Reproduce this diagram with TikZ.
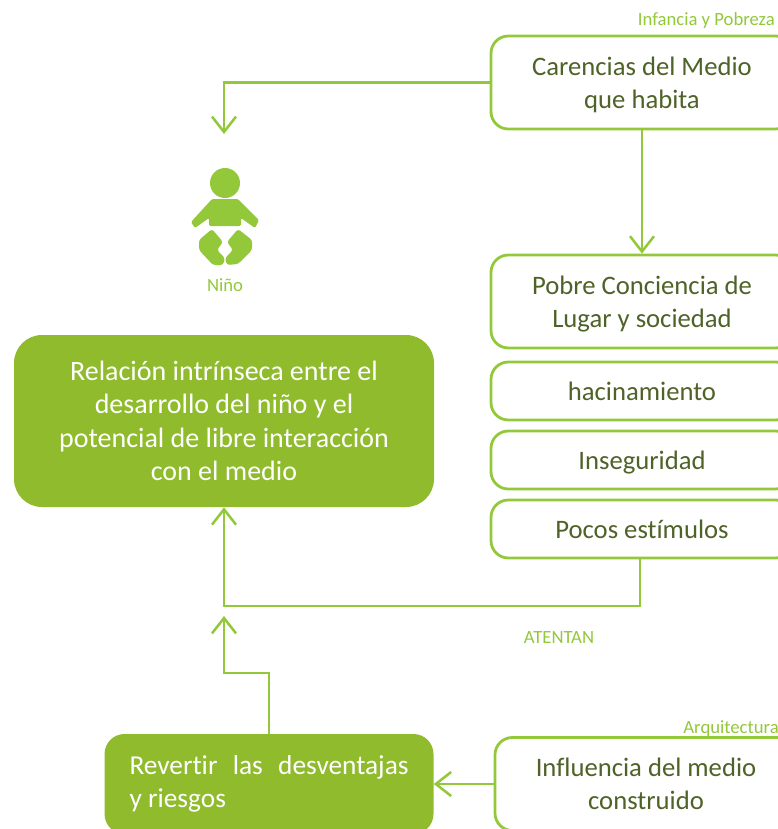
\documentclass[tikz,border=0pt]{standalone}
\usepackage{fontspec}
\setmainfont[Ligatures=NoCommon]{Carlito}
\usetikzlibrary{arrows.meta,positioning}
\definecolor{linegreen}{HTML}{92C83A}
\definecolor{fillgreen}{HTML}{8FBB2D}
\definecolor{textgreen}{HTML}{4F6228}
\tikzset{font=\fontsize{20}{24.5}\selectfont}
\tikzset{conn/.style={draw=linegreen,line width=2.1pt,-{Straight Barb[length=11.5pt,width=18pt,line width=1.9pt]}}}
\tikzset{whitebox/.style={draw=linegreen,line width=2.1pt,rounded corners=13pt,fill=white,text=textgreen,align=center,minimum width=226.5pt,inner sep=0pt,text depth=0pt}}
\tikzset{greenbox/.style={fill=fillgreen,text=white,inner sep=0pt}}
\tikzset{caption/.style={text=linegreen,font=\fontsize{14}{16}\selectfont,inner sep=0pt}}

\begin{document}
\begin{tikzpicture}[x=.75pt,y=-.75pt]
\useasboundingbox (0,0) rectangle (778,829);
\clip (0,0) rectangle (778,829);
% right column
\node[whitebox,minimum height=69.75pt] (carencias) at (642,82.5) {Carencias del Medio\\que habita};
\node[whitebox,minimum height=69.75pt] (pobre) at (642,301.5) {Pobre Conciencia de\\Lugar y sociedad};
\node[whitebox,minimum height=43.5pt] (hacinamiento) at (642,391) {hacinamiento};
\node[whitebox,minimum height=43.5pt] (inseguridad) at (642,460) {Inseguridad};
\node[whitebox,minimum height=43.5pt] (pocos) at (642,529) {Pocos estímulos};
\node[whitebox,minimum height=69.75pt] (influencia) at (646,784) {Influencia del medio\\construido};
% green boxes
\node[greenbox,rounded corners=21pt,minimum width=315pt,minimum height=129pt,align=center,font=\fontsize{21}{25}\selectfont] (relacion) at (224,421) {Relación intrínseca entre el\\desarrollo del niño y el\\potencial de libre interacción\\con el medio};
\node[greenbox,rounded corners=15pt,text width=209.25pt,inner xsep=18.75pt,minimum height=75pt,align=justify,font=\fontsize{20.5}{25}\selectfont] (revertir) at (269,784) {Revertir las desventajas y~riesgos};
% baby
\node[circle,fill=linegreen,minimum size=22.5pt,inner sep=0pt] (cabeza) at (225,183) {};
\fill[linegreen,rounded corners=1pt] (212,199) -- (238,199) -- (259,220) -- (255,228) -- (241,218) -- (241,226)
  -- (209,226) -- (209,218) -- (195,228) -- (191,222) -- cycle;
\fill[linegreen,rounded corners=2pt] (212,229) -- (223,242) -- (217,250) -- (225,258) -- (223,265) -- (213,265)
  -- (199,250) -- (199,240) -- cycle;
\fill[linegreen,rounded corners=2pt] (238,229) -- (252,240) -- (252,250) -- (238,264) -- (227,265) -- (225,258)
  -- (233,250) -- (227,242) -- cycle;
% labels
\node[caption,anchor=east] (infancia) at (775,21) {Infancia y Pobreza};
\node[caption] (nino) at (225,285) {Niño};
\node[caption] (atentan) at (559,638) {ATENTAN};
\node[caption,anchor=east] (arquitectura) at (779,729) {Arquitectura};
% arrows
\coordinate (fin1) at (224,134);
\coordinate (codo1) at (640,606);
\coordinate (codo2) at (224,606);
\coordinate (codo3) at (269,673);
\coordinate (codo4) at (224,673);
\coordinate (fin2) at (224,616);
\draw[conn] (carencias.west) -| (fin1);
\draw[conn] (carencias.south) -- (pobre.north);
\draw[conn] (pocos.south -| codo1) -- (codo1) -- (codo2) -- (relacion.south);
\draw[conn] (revertir.north) -- (codo3) -- (codo4) -- (fin2);
\draw[conn] (influencia.west) -- (revertir.east);
\end{tikzpicture}
\end{document}
